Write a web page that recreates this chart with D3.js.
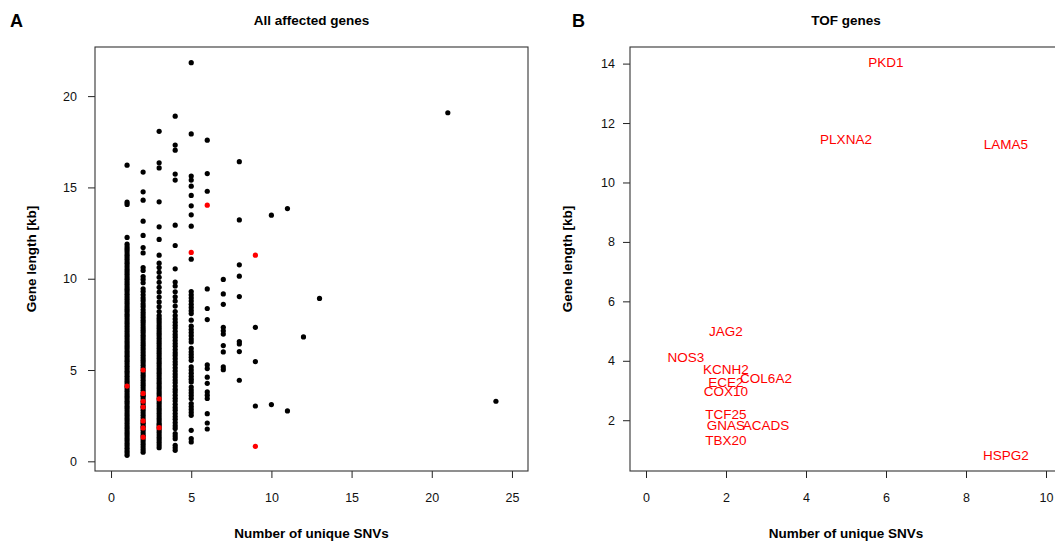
<!DOCTYPE html>
<html>
<head>
<meta charset="utf-8">
<script src="https://cdn.jsdelivr.net/npm/d3@7"></script>
<style>
  body { margin: 0; background: #fff; }
  svg { display: block; font-family: "Liberation Sans", Arial, Helvetica, sans-serif; }
</style>
</head>
<body>
<svg id="chart" width="1055" height="542"></svg>
<script>
// Gene length (kb) of every affected gene, grouped by its number of unique SNVs
const genesSnv1 = [16.22, 14.19, 14.07, 12.26, 11.89, 11.74, 11.62, 11.48, 11.33, 11.21, 11.07, 10.92, 10.80, 10.66,
  10.51, 10.38, 10.25, 10.10, 9.97, 9.83, 9.70, 9.55, 9.42, 9.29, 9.15, 9.01, 8.88, 8.74, 8.61, 8.47, 8.33, 8.20,
  8.06, 7.93, 7.79, 7.65, 7.52, 7.38, 7.24, 7.11, 6.97, 6.84, 6.70, 6.56, 6.43, 6.29, 6.16, 6.02, 5.88, 5.75, 5.61,
  5.48, 5.34, 5.20, 5.07, 4.93, 4.80, 4.66, 4.52, 4.39, 4.25, 4.11, 3.98, 3.84, 3.70, 3.57, 3.43, 3.29, 3.16, 3.02,
  2.89, 2.75, 2.61, 2.48, 2.34, 2.21, 2.07, 1.93, 1.80, 1.66, 1.53, 1.39, 1.25, 1.12, 0.98, 0.85, 0.71, 0.58, 0.46, 0.33];
const genesSnv2 = [15.84, 14.76, 14.30, 13.15, 12.37, 11.71, 11.41, 10.61, 10.45, 10.12, 9.96, 9.78, 9.45, 9.30, 9.12,
  8.95, 8.80, 8.62, 8.47, 8.30, 8.15, 8.01, 7.87, 7.73, 7.60, 7.46, 7.32, 7.18, 7.05, 6.91, 6.77, 6.64, 6.50, 6.36,
  6.22, 6.09, 5.95, 5.81, 5.67, 5.54, 5.40, 5.26, 5.12, 4.99, 4.85, 4.72, 4.58, 4.44, 4.30, 4.17, 4.03, 3.89, 3.75,
  3.62, 3.55, 3.42, 3.28, 3.15, 3.01, 2.93, 2.80, 2.66, 2.52, 2.38, 2.24, 2.11, 2.05, 1.92, 1.83, 1.70, 1.56, 1.43,
  1.33, 1.20, 1.06, 0.92, 0.78, 0.64, 0.50];
const genesSnv3 = [18.07, 16.35, 16.07, 14.21, 12.84, 12.15, 11.29, 10.85, 10.61, 10.35, 10.08, 9.80, 9.53, 9.27, 9.00,
  8.73, 8.47, 8.20, 7.98, 7.84, 7.70, 7.57, 7.43, 7.29, 7.15, 7.02, 6.88, 6.74, 6.60, 6.47, 6.33, 6.19, 6.05, 5.92,
  5.78, 5.64, 5.50, 5.37, 5.23, 5.09, 4.95, 4.82, 4.68, 4.54, 4.40, 4.27, 4.13, 3.99, 3.85, 3.72, 3.58, 3.44, 3.31,
  3.17, 3.03, 2.89, 2.76, 2.62, 2.48, 2.34, 2.21, 2.07, 1.98, 1.85, 1.72, 1.58, 1.44, 1.30, 1.17, 1.03, 0.89, 0.75];
const genesSnv4 = [18.90, 17.32, 17.04, 15.73, 15.40, 12.93, 11.82, 10.54, 9.82, 9.60, 9.28, 9.01, 8.78, 8.50, 8.20,
  7.98, 7.80, 7.62, 7.45, 7.30, 7.12, 6.95, 6.80, 6.62, 6.45, 6.30, 6.12, 5.95, 5.80, 5.62, 5.45, 5.30, 5.12, 4.95,
  4.78, 4.62, 4.45, 4.30, 4.12, 3.95, 3.80, 3.62, 3.45, 3.30, 3.12, 2.95, 2.80, 2.62, 2.45, 2.30, 2.12, 1.95, 1.80,
  1.52, 1.38, 1.24, 0.88, 0.74, 0.60];
const genesSnv5 = [21.83, 17.93, 15.62, 15.40, 15.07, 14.56, 13.99, 13.50, 12.88, 11.07, 9.30, 9.12, 8.95, 8.78, 8.60,
  8.43, 8.25, 8.09, 7.73, 7.40, 7.22, 7.05, 6.88, 6.70, 6.54, 6.18, 6.00, 5.85, 5.70, 5.53, 5.17, 5.00, 4.83, 4.66,
  4.50, 4.35, 4.07, 3.90, 3.75, 3.60, 3.44, 3.16, 3.00, 2.84, 2.68, 2.52, 1.70, 1.24, 1.06];
const genesSnv6 = [17.59, 15.76, 14.79, 9.44, 8.37, 7.76, 5.28, 5.08, 4.61, 4.27, 3.80, 3.62, 3.44, 2.61, 2.10, 1.77];
const genesSnv7 = [9.96, 9.17, 8.60, 7.34, 7.15, 6.97, 6.34, 5.99, 5.17, 5.02];
const genesSnv8 = [16.41, 13.22, 10.76, 10.14, 9.02, 6.56, 6.43, 6.01, 4.44];
const genesSnv9 = [7.34, 5.46, 3.03];
const genesSnv10 = [13.48, 3.11];
const genesSnv11 = [13.84, 2.76];
const genesSnv12 = [6.81];
const genesSnv13 = [8.92];
const genesSnv21 = [19.09];
const genesSnv24 = [3.29];

const snvCounts = [1, 2, 3, 4, 5, 6, 7, 8, 9, 10, 11, 12, 13, 21, 24];
const lengthGroups = [genesSnv1, genesSnv2, genesSnv3, genesSnv4, genesSnv5, genesSnv6, genesSnv7, genesSnv8,
  genesSnv9, genesSnv10, genesSnv11, genesSnv12, genesSnv13, genesSnv21, genesSnv24];

// Tetralogy of Fallot (TOF) genes
const tofGenes   = ["NOS3", "JAG2", "KCNH2", "ECE2", "COX10", "TCF25", "GNAS", "TBX20", "COL6A2", "ACADS",
                    "PLXNA2", "PKD1", "LAMA5", "HSPG2"];
const tofSnvs    = [1, 2, 2, 2, 2, 2, 2, 2, 3, 3, 5, 6, 9, 9];
const tofLengths = [4.12, 5.00, 3.72, 3.29, 2.97, 2.21, 1.83, 1.32, 3.42, 1.84, 11.44, 14.03, 11.29, 0.82];

// Axis settings
const xTicksA = [0, 5, 10, 15, 20, 25];
const yTicksA = [0, 5, 10, 15, 20];
const xTicksB = [0, 2, 4, 6, 8, 10];
const yTicksB = [2, 4, 6, 8, 10, 12, 14];
const xLimA = [0, 25];
const xLimB = [0, 10];

const background = snvCounts.flatMap((s, i) => lengthGroups[i].map(v => ({ snv: s, len: v })));
const tof = tofGenes.map((g, i) => ({ gene: g, snv: tofSnvs[i], len: tofLengths[i] }));

// R-style 4% padding of an axis range
const pad = ([a, b]) => { const d = (b - a) * 0.04; return [a - d, b + d]; };

const svg = d3.select("#chart");
const tickFont = "12.5px";
const titleFont = "13.5px";

function panel(opts) {
  const { left, right, top, bottom } = opts;
  const x = d3.scaleLinear().domain(pad(opts.xlim)).range([left, right]);
  const y = d3.scaleLinear().domain(pad(opts.ylim)).range([bottom, top]);
  const g = svg.append("g");

  // y axis
  const ya = g.append("g").attr("transform", `translate(${left},0)`)
    .call(d3.axisLeft(y).tickValues(opts.yTicks).tickSize(7).tickPadding(opts.yPad).tickFormat(d3.format("d")));
  ya.select(".domain").remove();
  ya.selectAll("line").attr("stroke", "#222");
  ya.selectAll("text").attr("font-size", tickFont).attr("fill", "#111").attr("font-family", null);

  // x axis
  const xa = g.append("g").attr("transform", `translate(0,${bottom})`)
    .call(d3.axisBottom(x).tickValues(opts.xTicks).tickSize(7).tickPadding(15).tickFormat(d3.format("d")));
  xa.select(".domain").remove();
  xa.selectAll("line").attr("stroke", "#222");
  xa.selectAll("text").attr("font-size", tickFont).attr("fill", "#111").attr("font-family", null);

  // plot frame
  g.append("rect").attr("x", left).attr("y", top).attr("width", right - left).attr("height", bottom - top)
    .attr("fill", "none").attr("stroke", "#333").attr("stroke-width", 1.1);

  // titles
  const cx = (left + right) / 2;
  g.append("text").attr("x", cx).attr("y", 24.5).attr("text-anchor", "middle")
    .attr("font-weight", "bold").attr("font-size", titleFont).text(opts.title);
  g.append("text").attr("x", cx).attr("y", 537.5).attr("text-anchor", "middle")
    .attr("font-weight", "bold").attr("font-size", titleFont).text("Number of unique SNVs");
  g.append("text").attr("transform", `translate(${opts.yLabelX},${(top + bottom) / 2}) rotate(-90)`)
    .attr("dy", "0.35em").attr("text-anchor", "middle")
    .attr("font-weight", "bold").attr("font-size", titleFont).text("Gene length [kb]");
  g.append("text").attr("x", opts.letterX).attr("y", 27).attr("font-weight", "bold")
    .attr("font-size", "18px").text(opts.letter);
  return { g, x, y };
}

// Panel A: all affected genes
const allLens = background.map(d => d.len).concat(tofLengths);
const A = panel({
  left: 95, right: 528, top: 47, bottom: 471,
  xlim: xLimA, ylim: d3.extent(allLens),
  xTicks: xTicksA, yTicks: yTicksA, yPad: 11,
  title: "All affected genes", yLabelX: 31, letter: "A", letterX: 10
});
A.g.append("g").selectAll("circle").data(background).join("circle")
  .attr("cx", d => A.x(d.snv)).attr("cy", d => A.y(d.len)).attr("r", 2.6).attr("fill", "#000");
A.g.append("g").selectAll("circle").data(tof).join("circle")
  .attr("cx", d => A.x(d.snv)).attr("cy", d => A.y(d.len)).attr("r", 2.6).attr("fill", "#ff0000");

// Panel B: TOF genes, labelled at their positions
const B = panel({
  left: 630, right: 1062, top: 47, bottom: 471,
  xlim: xLimB, ylim: d3.extent(tofLengths),
  xTicks: xTicksB, yTicks: yTicksB, yPad: 8,
  title: "TOF genes", yLabelX: 567, letter: "B", letterX: 572
});
B.g.append("g").selectAll("text").data(tof).join("text")
  .attr("x", d => B.x(d.snv)).attr("y", d => B.y(d.len)).attr("dy", "0.35em")
  .attr("text-anchor", "middle").attr("font-size", "13.5px").attr("fill", "#ff0000")
  .text(d => d.gene);
</script>
</body>
</html>
